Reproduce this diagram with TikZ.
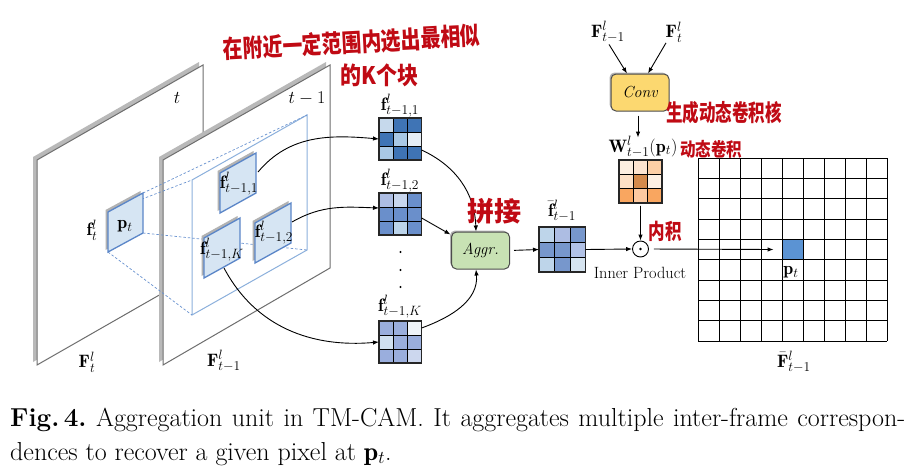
\RequirePackage{fix-cm}
\documentclass[tikz,border=0pt]{standalone}
\usepackage{fontspec}
\usepackage{graphicx}
\newfontfamily\cjk{Noto Sans CJK SC}
\usetikzlibrary{arrows.meta,shadows}
\DeclareMathSizes{18}{18}{13.5}{10}
\DeclareMathSizes{26}{26}{18}{13}
\definecolor{planegray}{HTML}{6E6E6E}
\definecolor{patchfill}{HTML}{D6E5F3}
\definecolor{patchblue}{HTML}{5B86C8}
\definecolor{winblue}{HTML}{8CB0DC}
\definecolor{dashblue}{HTML}{6A93D0}
\definecolor{handred}{HTML}{C00A14}
\definecolor{convfill}{HTML}{FCD870}
\definecolor{aggrfill}{HTML}{C8E2B4}
\definecolor{cellblue}{HTML}{5B93D3}
\definecolor{Ga}{HTML}{C6D9EC}\definecolor{Gb}{HTML}{3F74B5}\definecolor{Gc}{HTML}{A9C8E5}\definecolor{Gd}{HTML}{E5EDF5}
\definecolor{Ha}{HTML}{ADBDE3}\definecolor{Hb}{HTML}{C8D6EE}\definecolor{Hc}{HTML}{6A8FCB}\definecolor{Hd}{HTML}{BCD4EA}
\definecolor{Ka}{HTML}{9AAEDD}\definecolor{Kb}{HTML}{EEF3F8}\definecolor{Kc}{HTML}{D0E0F0}\definecolor{Kd}{HTML}{CCD7EE}
\definecolor{Fa}{HTML}{BED5EA}\definecolor{Fb}{HTML}{ADBDE3}\definecolor{Fc}{HTML}{7797CC}\definecolor{Fd}{HTML}{B2C2E6}\definecolor{Fe}{HTML}{D6E4F0}
\definecolor{Oa}{HTML}{FDEEE0}\definecolor{Ob}{HTML}{FDE4D0}\definecolor{Oc}{HTML}{FDCFA6}\definecolor{Od}{HTML}{FDE0C6}
\definecolor{Oe}{HTML}{D48A4C}\definecolor{Of}{HTML}{FDF0E4}\definecolor{Og}{HTML}{F9A660}\definecolor{Oh}{HTML}{FDC9A0}
\newcommand{\cellgrid}[6]{%
  \foreach \cc [count=\i from 0] in {#6}{%
    \pgfmathtruncatemacro{\rr}{div(\i,3)}%
    \pgfmathtruncatemacro{\kk}{mod(\i,3)}%
    \fill[\cc] ({#2+\kk*#4},{#3+\rr*#5}) rectangle ++(#4,#5);
  }%
  \foreach \j in {1,2}{%
    \draw[gline] ({#2+\j*#4},#3) -- ++(0,{3*#5});
    \draw[gline] (#2,{#3+\j*#5}) -- ++({3*#4},0);
  }%
  \node[draw=black!85, line width=1.2pt, anchor=north west, inner sep=0pt, outer sep=0pt,
        minimum width={3*#4pt}, minimum height={3*#5pt}] (#1) at (#2,#3) {};
}
\tikzset{
  lab/.style={font=\fontsize{18}{21}\selectfont, inner sep=0.5pt},
  arr/.style={-{Latex[length=6pt,width=4.5pt]}, line width=0.9pt, black},
  plane/.style={fill=white, draw=planegray, line width=1pt},
  planeshadow/.style={fill=gray!55},
  patch/.style={fill=patchfill, draw=patchblue, line width=1.3pt},
  patchshadow/.style={fill=gray!60},
  gline/.style={black, line width=0.9pt},
  opbox/.style={rounded corners=5pt, draw=gray!60!black, line width=1pt, minimum width=58pt,
    minimum height=37pt, font=\fontsize{16}{18}\selectfont\itshape,
    drop shadow={shadow xshift=-1.5pt, shadow yshift=1.5pt, opacity=0.6}},
  hand/.style={text=handred, font=\cjk\bfseries, inner sep=0pt},
  dashl/.style={dashblue, line width=0.7pt, dash pattern=on 2.5pt off 2pt},
}
\begin{document}
\begin{tikzpicture}[x=1pt,y=-1pt]
\useasboundingbox[fill=white] (0,0) rectangle (920,469);

% ---- plane t
\coordinate (A1) at (37,365); \coordinate (A2) at (37,160);
\coordinate (A3) at (203,65); \coordinate (A4) at (203,270);
\fill[planeshadow] ([shift={(-4,-3)}]A1) -- ([shift={(-4,-3)}]A2) -- ([shift={(-4,-3)}]A3) -- ([shift={(-4,-3)}]A4) -- cycle;
\draw[plane] (A1) -- (A2) -- (A3) -- (A4) -- cycle;
% ---- plane t-1
\coordinate (B1) at (163,365); \coordinate (B2) at (163,160);
\coordinate (B3) at (330,65); \coordinate (B4) at (330,268);
\fill[planeshadow] ([shift={(-4,-3)}]B1) -- ([shift={(-4,-3)}]B2) -- ([shift={(-4,-3)}]B3) -- ([shift={(-4,-3)}]B4) -- cycle;
\draw[plane] (B1) -- (B2) -- (B3) -- (B4) -- cycle;
% ---- search window
\coordinate (W1) at (192,180); \coordinate (W2) at (307,115);
\coordinate (W3) at (307,250); \coordinate (W4) at (192,315);
\draw[winblue, line width=1pt] (W1) -- (W2) -- (W3) -- (W4) -- cycle;
% ---- p_t patch corners
\coordinate (P1) at (108,212); \coordinate (P2) at (143,193);
\coordinate (P3) at (143,233); \coordinate (P4) at (108,252);
\draw[dashl] (P1) -- (W1);
\draw[dashl] (P2) -- (W2);
\draw[dashl] (P3) -- (W3);
\draw[dashl] (P4) -- (W4);
\fill[patchshadow] ([shift={(-2.5,-2)}]P1) -- ([shift={(-2.5,-2)}]P2) -- ([shift={(-2.5,-2)}]P3) -- ([shift={(-2.5,-2)}]P4) -- cycle;
\draw[patch] (P1) -- (P2) -- (P3) -- (P4) -- cycle;
% ---- patches on t-1
\foreach \nm/\x/\y in {Q1/220/173, Q2/255/223, QK/204/238}{
  \fill[patchshadow] (\x-2.5,\y-2) -- ++(36,-20) -- ++(0,40) -- ++(-36,20) -- cycle;
  \draw[patch] (\x,\y) -- ++(36,-20) -- ++(0,40) -- ++(-36,20) -- cycle;
}
\coordinate (q1o) at (258,172);
\coordinate (q2o) at (292,222);
\coordinate (qKo) at (224,268);

% labels on planes
\node[lab] (lt) at (177,98) {$t$};
\node[lab] (lt1) at (307,98) {$t-1$};
\node[lab] (lft) at (92,230) {$\mathbf{f}^{l}_{t}$};
\node[lab] (lpt) at (125,226) {$\mathbf{p}_{t}$};
\node[lab] (lFt) at (87,362) {$\mathbf{F}^{l}_{t}$};
\node[lab] (lFt1) at (224,361) {$\mathbf{F}^{l}_{t-1}$};
\node[lab] (lq1) at (239,184) {$\mathbf{f}^{l}_{t-1,1}$};
\node[lab] (lq2) at (274,233) {$\mathbf{f}^{l}_{t-1,2}$};
\node[lab] (lqK) at (222,250) {$\mathbf{f}^{l}_{t-1,K}$};

% ---- grids
\cellgrid{g1}{379}{118}{14.2}{14}{Ga,Gb,Gb,Gb,Gc,Gd,Gc,Gb,Gb}
\cellgrid{g2}{379}{193}{14.2}{14}{Ha,Hb,Hc,Hc,Hc,Hc,Hc,Hd,Hc}
\cellgrid{gK}{379}{321}{14.2}{14}{Ka,Ka,Kb,Kc,Ka,Ka,Ka,Ka,Kd}
\cellgrid{fb}{539}{227}{15.5}{15}{Fa,Fb,Fc,Fc,Fc,Fd,Fa,Fc,Fe}
\cellgrid{og}{619}{160}{14.3}{14.3}{Oa,Ob,Oc,Od,Oe,Of,Og,Oh,Og}

\node[lab] (lg1) at (400,106) {$\mathbf{f}^{l}_{t-1,1}$};
\node[lab] (lg2) at (400,181) {$\mathbf{f}^{l}_{t-1,2}$};
\node[lab] (lgK) at (400,307) {$\mathbf{f}^{l}_{t-1,K}$};
\foreach \yy in {252,270,287} \fill (400.5,\yy) circle (1.2);
\node[lab] (lfb) at (562,211) {$\bar{\mathbf{f}}^{l}_{t-1}$};

% ---- boxes
\node[opbox, fill=aggrfill] (aggr) at (480.5,250.5) {Aggr.};
\node[opbox, fill=convfill] (conv) at (640,92.5) {Conv};
\node[lab] (fa) at (608,32) {$\mathbf{F}^{l}_{t-1}$};
\node[lab] (fbl) at (674,32) {$\mathbf{F}^{l}_{t}$};
\node[lab] (wl) at (643,147) {$\mathbf{W}^{l}_{t-1}(\mathbf{p}_{t})$};
\node[circle, draw, line width=0.9pt, minimum size=16pt, inner sep=0pt] (dot) at (640.5,249) {};
\fill (dot.center) circle (1.4);
\node[font=\fontsize{16.3}{18}\selectfont, inner sep=0pt] (ip) at (640,273) {Inner Product};

% ---- big grid
\foreach \i in {0,...,9}{
  \draw[gline] ({698+\i*21},158) -- ({698+\i*21},341);
  \draw[gline] (698,{158+\i*20.333}) -- (887,{158+\i*20.333});
}
\node[fill=cellblue, draw=black, line width=0.9pt, minimum width=21pt, minimum height=20.333pt, inner sep=0pt] (cell) at (792.5,249.5) {};
\node[lab] (lpc) at (791,272) {$\mathbf{p}_{t}$};
\node[lab] (lFb) at (794,362) {$\bar{\mathbf{F}}^{l}_{t-1}$};

% ---- connectors
\draw[arr] (q1o) to[out=50,in=175] (g1.west);
\draw[arr] (q2o) to[out=30,in=178] ([yshift=6pt]g2.west);
\draw[arr] (qKo) to[out=-62,in=185] (gK.west);
\draw[arr] ([yshift=-11pt]g1.east) to[out=-25,in=92] ([xshift=-4.5pt]aggr.north);
\draw[arr] ([yshift=-4pt]g2.east) -- ([xshift=-30pt,yshift=-3pt]aggr.north);
\draw[arr] ([yshift=-7pt]gK.north east) to[out=20,in=-85] ([xshift=-4.5pt]aggr.south);
\draw[arr, shorten <=4pt] (aggr.east) -- (fb.west);
\draw[arr] (fb.east) -- (dot.west);
\draw[arr, shorten <=5pt] (dot.east) -- ([xshift=-8pt]cell.west);
\draw[arr] ([xshift=1pt,yshift=-1pt]fa.south) -- ([xshift=-13pt]conv.north);
\draw[arr] ([xshift=-8pt,yshift=0pt]fbl.south) -- ([xshift=8pt]conv.north);
\draw[arr, shorten <=4pt] ([xshift=-2pt]conv.south) -- ([xshift=-5pt,yshift=-2pt]wl.north);
\draw[arr, shorten <=3pt] (og.south) -- (dot.north);

% ---- handwritten annotations
\node[hand, anchor=west, rotate=3] (h1) at (223,49) {\fontsize{19.8}{20}\selectfont\scalebox{1}[1.25]{在附近一定范围内选出最相似}};
\node[hand, anchor=west] (h2) at (340,75) {\fontsize{21}{22}\selectfont\scalebox{1}[1.15]{的K个块}};
\node[hand, anchor=west] (h3) at (666,113) {\fontsize{16.5}{18}\selectfont\scalebox{1}[1.4]{生成动态卷积核}};
\node[hand, anchor=west] (h4) at (680,149) {\fontsize{15.5}{17}\selectfont\scalebox{1}[1.2]{动态卷积}};
\node[hand] (h5) at (494,211) {\fontsize{27}{28}\selectfont 拼接};
\node[hand] (h6) at (665,231) {\fontsize{16.5}{18}\selectfont\scalebox{1}[1.3]{内积}};

% ---- caption
\node[anchor=base west, inner sep=0pt, font=\fontsize{26}{30}\selectfont\frenchspacing] (cap1) at (10,426)
  {\makebox[895pt][s]{\textbf{Fig.\,4.} Aggregation unit in TM-CAM. It aggregates multiple inter-frame correspon-}};
\node[anchor=base west, inner sep=0pt, font=\fontsize{26}{30}\selectfont\frenchspacing] (cap2) at (10,460)
  {dences to recover a given pixel at $\mathbf{p}_{t}$.};
\end{tikzpicture}
\end{document}
